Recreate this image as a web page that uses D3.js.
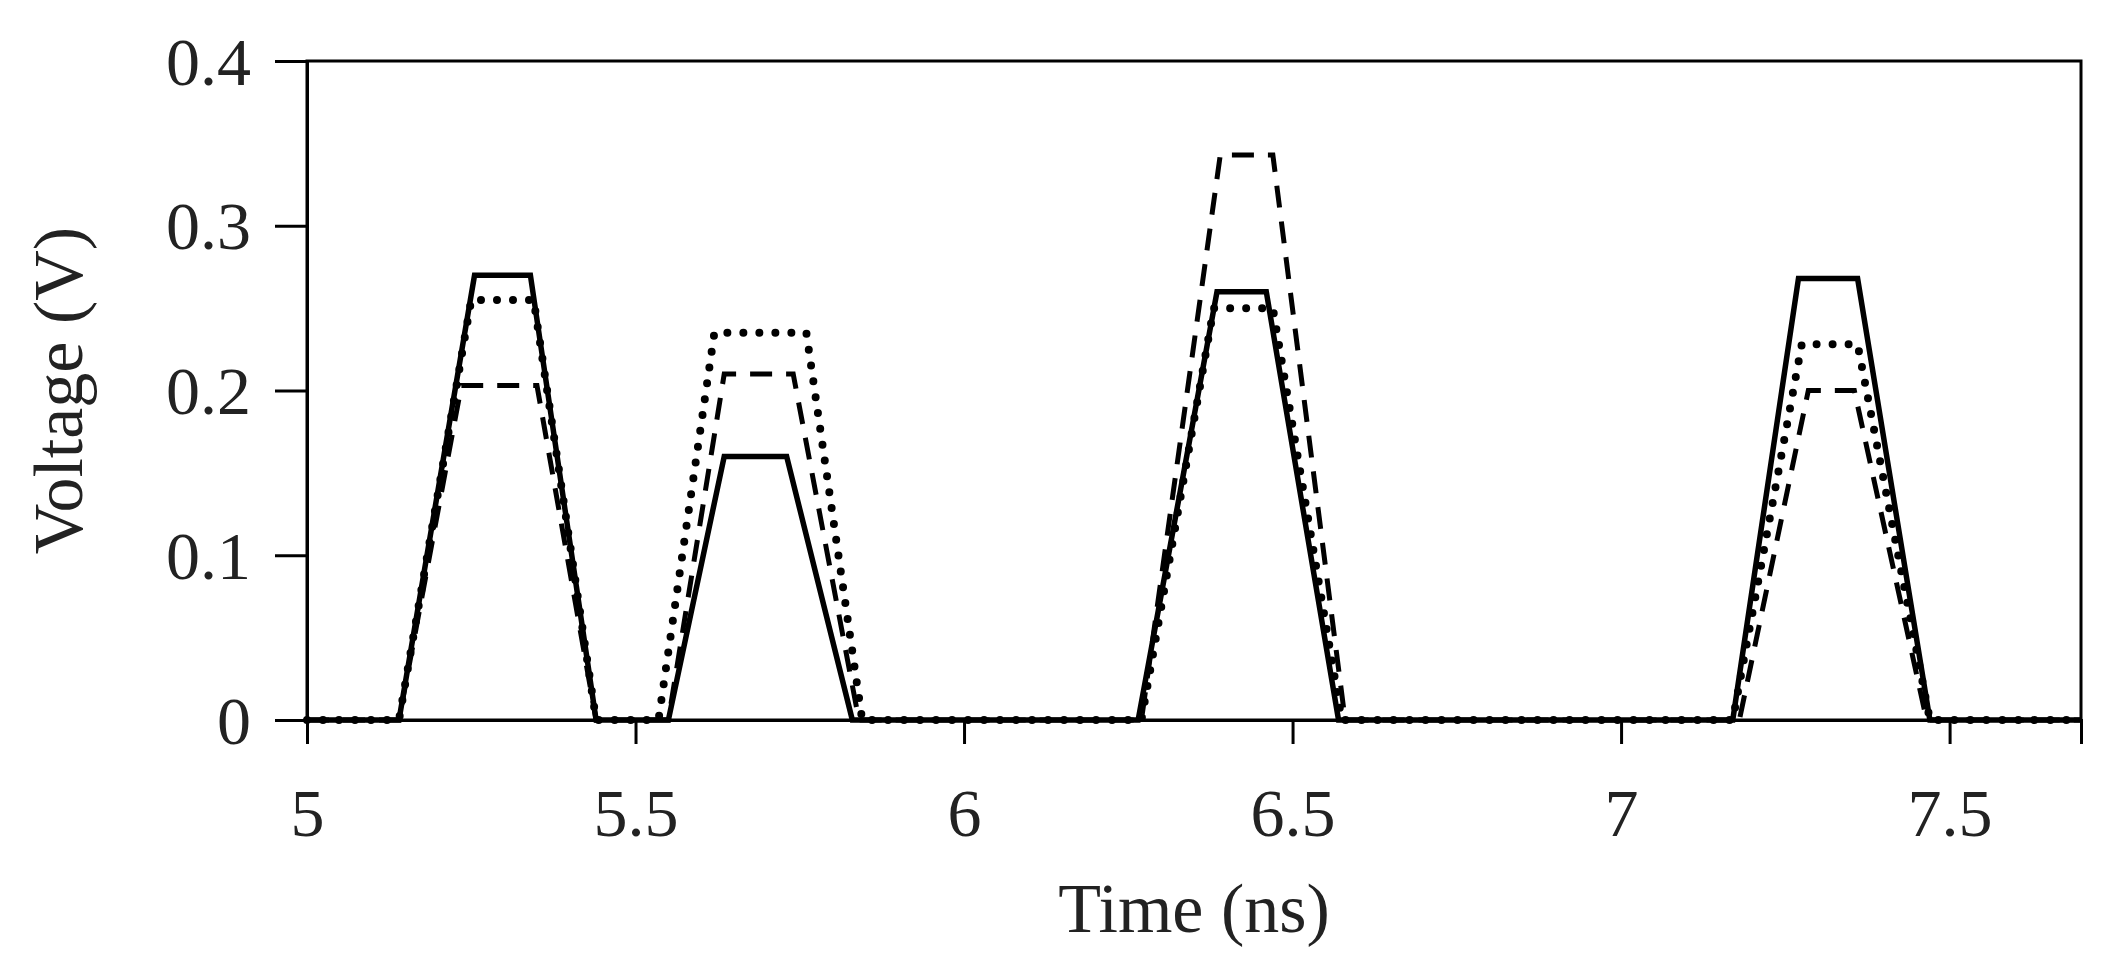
<!DOCTYPE html>
<html><head><meta charset="utf-8">
<script src="https://cdn.jsdelivr.net/npm/d3@7"></script>
<style>body{margin:0;background:#fff}svg text{font-family:"Liberation Serif","DejaVu Serif",serif;fill:#222}</style>
</head><body><div id="chart"></div>
<script>
// series: [time ns, voltage V]
const solid = [[5,0],[5.14,0],[5.255,0.27],[5.34,0.27],[5.44,0],[5.55,0],[5.635,0.16],[5.73,0.16],[5.83,0],
  [6.265,0],[6.385,0.26],[6.46,0.26],[6.57,0],[7.17,0],[7.27,0.268],[7.36,0.268],[7.47,0],[7.7,0]];
const dashed = [[5,0],[5.14,0],[5.235,0.203],[5.35,0.203],[5.44,0],[5.55,0],[5.635,0.21],[5.74,0.21],[5.84,0],
  [6.27,0],[6.39,0.343],[6.47,0.343],[6.58,0],[7.18,0],[7.285,0.2],[7.355,0.2],[7.465,0],[7.7,0]];
const dotted = [[5,0],[5.14,0],[5.25,0.255],[5.345,0.255],[5.44,0],[5.535,0],[5.62,0.235],[5.76,0.235],[5.845,0],
  [6.27,0],[6.38,0.25],[6.47,0.25],[6.575,0],[7.17,0],[7.275,0.228],[7.36,0.228],[7.47,0],[7.7,0]];
const xTicks = [5, 5.5, 6, 6.5, 7, 7.5];
const yTicks = [0, 0.1, 0.2, 0.3, 0.4];

const W = 2112, H = 968;
const margin = {top: 61, right: 31, bottom: 248, left: 307};
const width = W - margin.left - margin.right, height = H - margin.top - margin.bottom;

const svg = d3.select("#chart").append("svg").attr("width", W).attr("height", H)
  .append("g").attr("transform", "translate(" + margin.left + "," + margin.top + ")");

const x = d3.scaleLinear().domain([5, 7.7]).range([0, width]);
const y = d3.scaleLinear().domain([0, 0.4]).range([height, 0]);

svg.append("rect").attr("width", width).attr("height", height)
  .attr("fill", "none").attr("stroke", "#000").attr("stroke-width", 3);

const xa = svg.append("g").attr("transform", "translate(0," + height + ")")
  .call(d3.axisBottom(x).tickValues(xTicks).tickSize(24).tickPadding(44).tickFormat(d3.format("")));
const ya = svg.append("g")
  .call(d3.axisLeft(y).tickValues(yTicks).tickSize(32).tickPadding(24).tickFormat(d => d === 0 ? "0" : d3.format(".1f")(d)));
[xa, ya].forEach(a => {
  a.select(".domain").attr("stroke-width", 3);
  a.selectAll("line").attr("stroke-width", 3);
  a.selectAll("text").style("font-size", "68px").attr("fill", "#222");
});
ya.selectAll("text").attr("dy", "0.34em");

const line = d3.line().x(d => x(d[0])).y(d => y(d[1]));
svg.append("path").datum(dotted).attr("d", line).attr("fill", "none").attr("stroke", "#000")
  .attr("stroke-width", 8).attr("stroke-linecap", "round").attr("stroke-dasharray", "0,16");
svg.append("path").datum(dashed).attr("d", line).attr("fill", "none").attr("stroke", "#000")
  .attr("stroke-width", 5).attr("stroke-dasharray", "22,14");
svg.append("path").datum(solid).attr("d", line).attr("fill", "none").attr("stroke", "#000")
  .attr("stroke-width", 5.5);

svg.append("text").attr("x", width / 2).attr("y", height + 212).attr("text-anchor", "middle")
  .style("font-size", "70px").text("Time (ns)");
svg.append("text").attr("transform", "translate(-225," + height / 2 + ") rotate(-90)")
  .attr("text-anchor", "middle").style("font-size", "70px").text("Voltage (V)");
</script></body></html>
